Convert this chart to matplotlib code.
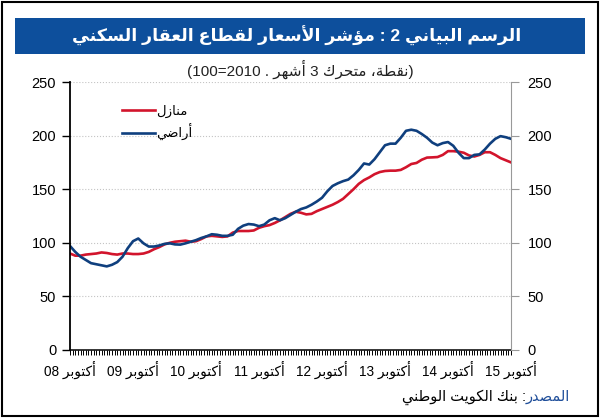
import matplotlib
matplotlib.use('Agg')
import matplotlib.pyplot as plt
from matplotlib.patches import Rectangle
from matplotlib.ticker import MultipleLocator
import numpy as np

plt.rcParams['font.family'] = ['Liberation Sans', 'DejaVu Sans']

# الرسم البياني 2 - monthly index, Oct 2008 .. Oct 2015
houses = [90, 88, 88, 89, 89.5, 90, 91, 90.5, 89.5, 89, 90, 90, 89.5, 89.5, 90,
          91.5, 94, 96, 98.5, 100, 101, 101.5, 102, 101, 101.5, 103.5, 106, 106.5,
          106, 105.5, 106, 109.5, 111, 111, 111, 111.5, 114, 115.5, 116.5, 118.5,
          121, 124, 127, 129, 128, 126.5, 127, 129.5, 131.5, 133.5, 135.5, 138,
          141, 145.5, 150, 155, 158.5, 161, 164, 166, 167, 167.3, 167.3, 168,
          170.5, 173.5, 174.5, 177.5, 179.5, 179.7, 180, 182, 185.5, 185.5, 185,
          184, 181.5, 180.5, 182, 184.5, 184.5, 182, 179, 177, 175]
land = [97, 91.5, 87, 84, 81, 80, 79, 78, 79.5, 82, 87, 95, 101.5, 104, 99.5,
        96.5, 96.5, 97.5, 99, 99.5, 98.5, 98.3, 99.5, 101, 102.5, 104.5, 106, 108,
        107.5, 106.5, 106.5, 107.5, 113, 116, 117.5, 117, 115.5, 117, 121, 123,
        121, 123, 126, 129, 131.5, 133, 135.5, 138.5, 142, 148, 153, 155.5, 157.5,
        159, 163, 168, 174, 173, 178, 184.5, 191, 192.5, 192.5, 198, 204.5, 205.5,
        204.5, 201.5, 198, 193.5, 191, 193, 194, 190.5, 184, 179, 179, 182, 182.5,
        187, 192.5, 197, 199.5, 198.5, 197]
years = ['08', '09', '10', '11', '12', '13', '14', '15']
yticks = [0, 50, 100, 150, 200, 250]

# minimal arabic shaping (presentation forms) for matplotlib
F = {
    'ا': 'ﺍﺎ', 'أ': 'ﺃﺄ', 'د': 'ﺩﺪ', 'ر': 'ﺭﺮ', 'ز': 'ﺯﺰ', 'و': 'ﻭﻮ', 'ؤ': 'ﺅﺆ', 'ة': 'ﺓﺔ',
    'ب': 'ﺏﺐﺑﺒ', 'ت': 'ﺕﺖﺗﺘ', 'ح': 'ﺡﺢﺣﺤ', 'س': 'ﺱﺲﺳﺴ', 'ش': 'ﺵﺶﺷﺸ', 'ص': 'ﺹﺺﺻﺼ',
    'ض': 'ﺽﺾﺿﻀ', 'ط': 'ﻁﻂﻃﻄ', 'ع': 'ﻉﻊﻋﻌ', 'ق': 'ﻕﻖﻗﻘ', 'ك': 'ﻙﻚﻛﻜ', 'ل': 'ﻝﻞﻟﻠ',
    'م': 'ﻡﻢﻣﻤ', 'ن': 'ﻥﻦﻧﻨ', 'ه': 'ﻩﻪﻫﻬ', 'ي': 'ﻱﻲﻳﻴ',
}
LIG = {'ا': 'ﻻﻼ', 'أ': 'ﻷﻸ'}


def word(w):
    items = []
    i = 0
    while i < len(w):
        if w[i] == 'ل' and i + 1 < len(w) and w[i + 1] in LIG:
            items.append('L' + w[i + 1])
            i += 2
        else:
            items.append(w[i])
            i += 1
    dual = lambda c: c in F and len(F[c]) == 4
    is_ar = lambda c: c in F or (len(c) == 2 and c[0] == 'L')
    out = []
    for k, c in enumerate(items):
        p = k > 0 and dual(items[k - 1])
        if len(c) == 2 and c[0] == 'L':
            out.append(LIG[c[1]][1 if p else 0])
            continue
        if c not in F:
            out.append(c)
            continue
        n = dual(c) and k + 1 < len(items) and is_ar(items[k + 1])
        f = F[c]
        out.append(f[3] if p and n else f[1] if p else f[2] if n else f[0])
    return ''.join(out)[::-1]


def rtl(s):
    return ' '.join(t if t[0].isdigit() else word(t) for t in s.split(' ')[::-1])


fig = plt.figure(figsize=(6, 4.18), dpi=100)
fig.patches.append(Rectangle((0.003, 0.004), 0.994, 0.992, transform=fig.transFigure,
                             fill=False, ec='black', lw=1.5))
fig.patches.append(Rectangle((0.025, 0.871), 0.95, 0.086, transform=fig.transFigure,
                             fc='#0d4f9c', ec='none'))
fig.text(0.495, 0.913, rtl('الرسم البياني 2 : مؤشر الأسعار لقطاع العقار السكني'),
         color='white', fontsize=12.5, fontweight='bold', ha='center', va='center')
fig.text(0.5, 0.835, '(100=2010 . ' + rtl('نقطة، متحرك 3 أشهر') + ')',
         color='#222222', fontsize=11, ha='center', va='center')

ax = fig.add_axes([0.1167, 0.1627, 0.735, 0.6411])
x = np.arange(len(houses))
ax.plot(x, houses, color='#d2142c', lw=1.9, label=rtl('منازل'))
ax.plot(x, land, color='#0f3f7e', lw=1.9, label=rtl('أراضي'))

ax.set_xlim(0, len(houses) - 1)
ax.set_ylim(0, 250)
ax.set_yticks(yticks)
ax.grid(axis='y', color='#c4c4c4', ls=':', lw=0.8)
ax.set_xticks(np.arange(0, 85, 12))
ax.set_xticklabels([y + ' ' + word('أكتوبر') for y in years], fontsize=9.8)
ax.xaxis.set_minor_locator(MultipleLocator(0.5))
ax.tick_params(axis='x', which='both', direction='out', length=3.5, width=0.7, pad=4)
ax.tick_params(axis='y', direction='out', length=6, width=1, labelsize=10.5, pad=4)
for s in ['top', 'right']:
    ax.spines[s].set_visible(False)
ax.spines['left'].set_linewidth(1.3)
ax.spines['bottom'].set_linewidth(1.1)

ax2 = ax.twinx()
ax2.set_ylim(0, 250)
ax2.set_yticks(yticks)
ax2.tick_params(axis='y', direction='out', length=6, color='#999999', labelsize=10.5, pad=6)
for s in ['top', 'left', 'bottom']:
    ax2.spines[s].set_visible(False)
ax2.spines['right'].set_color('#999999')

ax.legend(loc='upper left', bbox_to_anchor=(0.09, 0.96), frameon=False, fontsize=9.5,
          handlelength=2.5, handletextpad=0.1, labelspacing=0.45)

src = fig.text(0.95, 0.05, word('المصدر'), color='#1f4e9a', fontsize=10.5, ha='right', va='center')
ax.annotate(rtl('بنك الكويت الوطني') + ' :', xy=(0, 0.5), xycoords=src, ha='right', va='center',
            fontsize=10.5, color='black', annotation_clip=False)

fig.savefig('out.png', dpi=100)
